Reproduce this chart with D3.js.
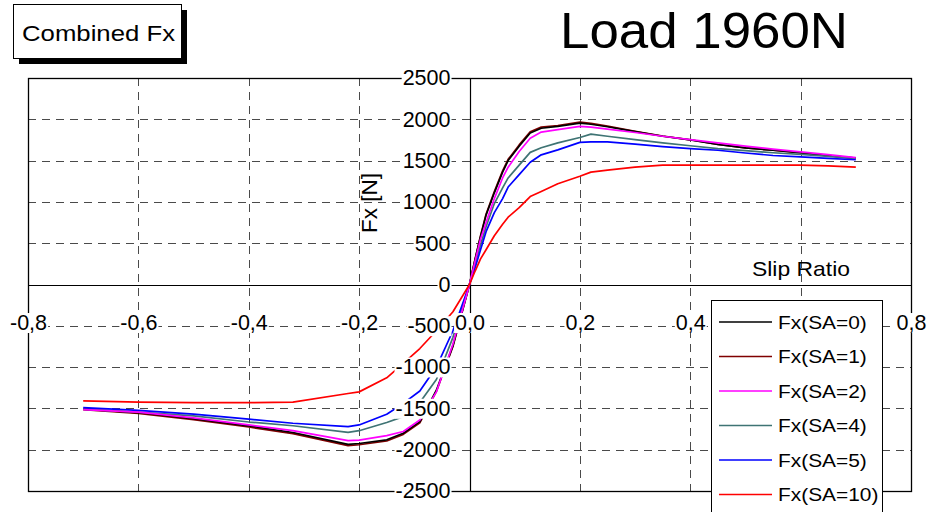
<!DOCTYPE html>
<html>
<head>
<meta charset="utf-8">
<script src="https://cdn.jsdelivr.net/npm/d3@7"></script>
<style>
  html, body { margin: 0; padding: 0; background: #fff; }
  text { font-family: "Liberation Sans", Arial, sans-serif; fill: #000; }
</style>
</head>
<body>
<svg id="chart" width="932" height="512"></svg>
<script>
// Slip ratio samples shared by all series
const slip = [-0.7, -0.6, -0.5, -0.4, -0.32, -0.22, -0.2, -0.15, -0.12, -0.09, -0.06, -0.03,
  0, 0.01, 0.02, 0.03, 0.045, 0.06, 0.07, 0.09, 0.11, 0.13, 0.16, 0.2, 0.22, 0.25, 0.3,
  0.35, 0.4, 0.45, 0.5, 0.55, 0.6, 0.65, 0.7];

// Longitudinal force Fx [N] for each slip angle
const fxSA0 = [-1509, -1550, -1625, -1711, -1792, -1935, -1925, -1880, -1800, -1660, -1280, -740,
  0, 300, 580, 840, 1110, 1360, 1500, 1675, 1835, 1892, 1915, 1954, 1940, 1910, 1850,
  1795, 1750, 1695, 1655, 1625, 1595, 1560, 1530];
const fxSA1 = [-1515, -1560, -1635, -1725, -1805, -1950, -1940, -1895, -1815, -1675, -1295, -750,
  0, 305, 590, 850, 1125, 1375, 1515, 1690, 1850, 1905, 1925, 1965, 1950, 1918, 1855,
  1798, 1752, 1697, 1655, 1625, 1593, 1560, 1530];
const fxSA2 = [-1515, -1545, -1615, -1700, -1770, -1890, -1885, -1830, -1780, -1640, -1300, -720,
  0, 280, 550, 750, 1040, 1290, 1420, 1610, 1770, 1845, 1875, 1915, 1905, 1880, 1840,
  1795, 1755, 1715, 1675, 1640, 1605, 1572, 1535];
const fxSA4 = [-1509, -1545, -1590, -1665, -1710, -1790, -1770, -1670, -1600, -1430, -1150, -640,
  0, 250, 480, 700, 980, 1170, 1290, 1445, 1600, 1655, 1715, 1780, 1820, 1795, 1755,
  1715, 1680, 1645, 1620, 1595, 1575, 1550, 1525];
const fxSA5 = [-1490, -1525, -1570, -1630, -1680, -1720, -1700, -1570, -1440, -1290, -1000, -560,
  0, 200, 420, 640, 870, 1040, 1180, 1330, 1480, 1570, 1630, 1720, 1727, 1727, 1700,
  1670, 1645, 1625, 1592, 1562, 1545, 1528, 1510];
const fxSA10 = [-1408, -1424, -1430, -1430, -1425, -1320, -1300, -1130, -955, -775, -560, -330,
  0, 160, 310, 420, 590, 730, 815, 930, 1065, 1125, 1220, 1310, 1360, 1385, 1420,
  1445, 1445, 1445, 1445, 1445, 1445, 1435, 1420];

const seriesNames = ["Fx(SA=0)", "Fx(SA=1)", "Fx(SA=2)", "Fx(SA=4)", "Fx(SA=5)", "Fx(SA=10)"];
const seriesColors = ["#000000", "#800000", "#ff00ff", "#3f7474", "#0000ff", "#ff0000"];
const seriesValues = [fxSA0, fxSA1, fxSA2, fxSA4, fxSA5, fxSA10];

// Axis ticks
const xTicks = [-0.8, -0.6, -0.4, -0.2, 0, 0.2, 0.4, 0.6, 0.8];
const yTicks = [-2500, -2000, -1500, -1000, -500, 0, 500, 1000, 1500, 2000, 2500];

const svg = d3.select("#chart");
const x = d3.scaleLinear().domain([-0.8, 0.8]).range([28, 911]);
const y = d3.scaleLinear().domain([-2500, 2500]).range([491, 78]);

const locale = d3.formatLocale({ decimal: ",", thousands: "", grouping: [3], currency: ["", ""], minus: "-" });
const fmtX = locale.format(".1f");
const fmtY = locale.format("d");

// Dashed grid
const grid = svg.append("g").attr("stroke", "#4a4a4a").attr("stroke-width", 1).attr("stroke-dasharray", "8,6");
grid.selectAll("line.v").data(xTicks.filter(d => d !== 0 && Math.abs(d) !== 0.8)).join("line")
  .attr("x1", d => Math.round(x(d)) + 0.5).attr("x2", d => Math.round(x(d)) + 0.5)
  .attr("y1", y(2500)).attr("y2", y(-2500));
grid.selectAll("line.h").data(yTicks.filter(d => d !== 0 && Math.abs(d) !== 2500)).join("line")
  .attr("y1", d => Math.round(y(d)) + 0.5).attr("y2", d => Math.round(y(d)) + 0.5)
  .attr("x1", x(-0.8)).attr("x2", x(0.8));

// Frame and zero axes
svg.append("rect").attr("x", x(-0.8) + 0.5).attr("y", y(2500) + 0.5)
  .attr("width", x(0.8) - x(-0.8)).attr("height", y(-2500) - y(2500))
  .attr("fill", "none").attr("stroke", "#000").attr("stroke-width", 1.3);
svg.append("line").attr("x1", Math.round(x(0)) + 0.5).attr("x2", Math.round(x(0)) + 0.5)
  .attr("y1", y(2500)).attr("y2", y(-2500)).attr("stroke", "#000").attr("stroke-width", 1.2);
svg.append("line").attr("y1", Math.round(y(0)) + 0.5).attr("y2", Math.round(y(0)) + 0.5)
  .attr("x1", x(-0.8)).attr("x2", x(0.8)).attr("stroke", "#000").attr("stroke-width", 1.2);

// Curves
svg.append("clipPath").attr("id", "plotClip").append("rect")
  .attr("x", x(-0.8)).attr("y", y(2500)).attr("width", x(0.8) - x(-0.8)).attr("height", y(-2500) - y(2500));
const line = d3.line().x(d => x(d[0])).y(d => y(d[1]));
const drawOrder = [1, 0, 3, 4, 2, 5];
svg.append("g").attr("clip-path", "url(#plotClip)")
  .selectAll("path").data(drawOrder).join("path")
  .attr("d", i => line(slip.map((s, k) => [s, seriesValues[i][k]])))
  .attr("fill", "none")
  .attr("stroke", i => seriesColors[i])
  .attr("stroke-width", 1.7)
  .attr("stroke-linejoin", "round");

// Tick labels with white backing, drawn over grid and curves
function backLabels(g) {
  g.selectAll(".tick").each(function () {
    const t = d3.select(this).select("text");
    const b = t.node().getBBox();
    d3.select(this).insert("rect", "text")
      .attr("x", b.x - 1).attr("y", b.y + 2).attr("width", b.width + 2).attr("height", b.height - 4)
      .attr("fill", "#fff");
  });
}

const yAxis = svg.append("g").attr("transform", `translate(${x(0)},0)`)
  .call(d3.axisLeft(y).tickValues(yTicks).tickFormat(fmtY).tickSize(0).tickPadding(19));
yAxis.select(".domain").remove();
yAxis.selectAll("text").attr("font-size", 21.5).attr("font-family", "Liberation Sans, Arial, sans-serif").attr("fill", "#000");
backLabels(yAxis);

const xAxis = svg.append("g").attr("transform", `translate(0,${y(0)})`)
  .call(d3.axisBottom(x).tickValues(xTicks).tickFormat(fmtX).tickSize(0));
xAxis.select(".domain").remove();
xAxis.selectAll("text").attr("y", 38).attr("dy", "0.35em")
  .attr("font-size", 21.5).attr("font-family", "Liberation Sans, Arial, sans-serif").attr("fill", "#000");
backLabels(xAxis);

// Axis titles
svg.append("text").attr("x", 752).attr("y", 276).attr("font-size", 21)
  .attr("textLength", 98).attr("lengthAdjust", "spacingAndGlyphs").text("Slip Ratio");
svg.append("text").attr("transform", "translate(377,203) rotate(-90)").attr("text-anchor", "middle")
  .attr("font-size", 22.5).text("Fx [N]");

// Legend
const lg = svg.append("g");
lg.append("rect").attr("x", 711.5).attr("y", 300.5).attr("width", 171).attr("height", 240)
  .attr("fill", "#fff").attr("stroke", "#000").attr("stroke-width", 1);
const rows = lg.selectAll("g.row").data(seriesNames).join("g")
  .attr("transform", (d, i) => `translate(0,${322 + i * 34.5})`);
rows.append("line").attr("x1", 719).attr("x2", 772).attr("y1", 0).attr("y2", 0)
  .attr("stroke", (d, i) => seriesColors[i]).attr("stroke-width", 1.7);
rows.append("text").attr("x", 778).attr("y", 0).attr("dy", "0.36em").attr("font-size", 19)
  .attr("transform", "translate(778,0) scale(1.1,1) translate(-778,0)")
  .text(d => d);

// Title box and chart title
svg.append("rect").attr("x", 19).attr("y", 10).attr("width", 168).attr("height", 54).attr("fill", "#000");
svg.append("rect").attr("x", 13.5).attr("y", 4.5).attr("width", 168).attr("height", 54)
  .attr("fill", "#fff").attr("stroke", "#000").attr("stroke-width", 1);
svg.append("text").attr("x", 22).attr("y", 40.5).attr("font-size", 21.5)
  .attr("textLength", 153).attr("lengthAdjust", "spacingAndGlyphs").text("Combined Fx");
svg.append("text").attr("x", 560).attr("y", 48).attr("font-size", 50)
  .attr("textLength", 288).attr("lengthAdjust", "spacingAndGlyphs").text("Load 1960N");
</script>
</body>
</html>
